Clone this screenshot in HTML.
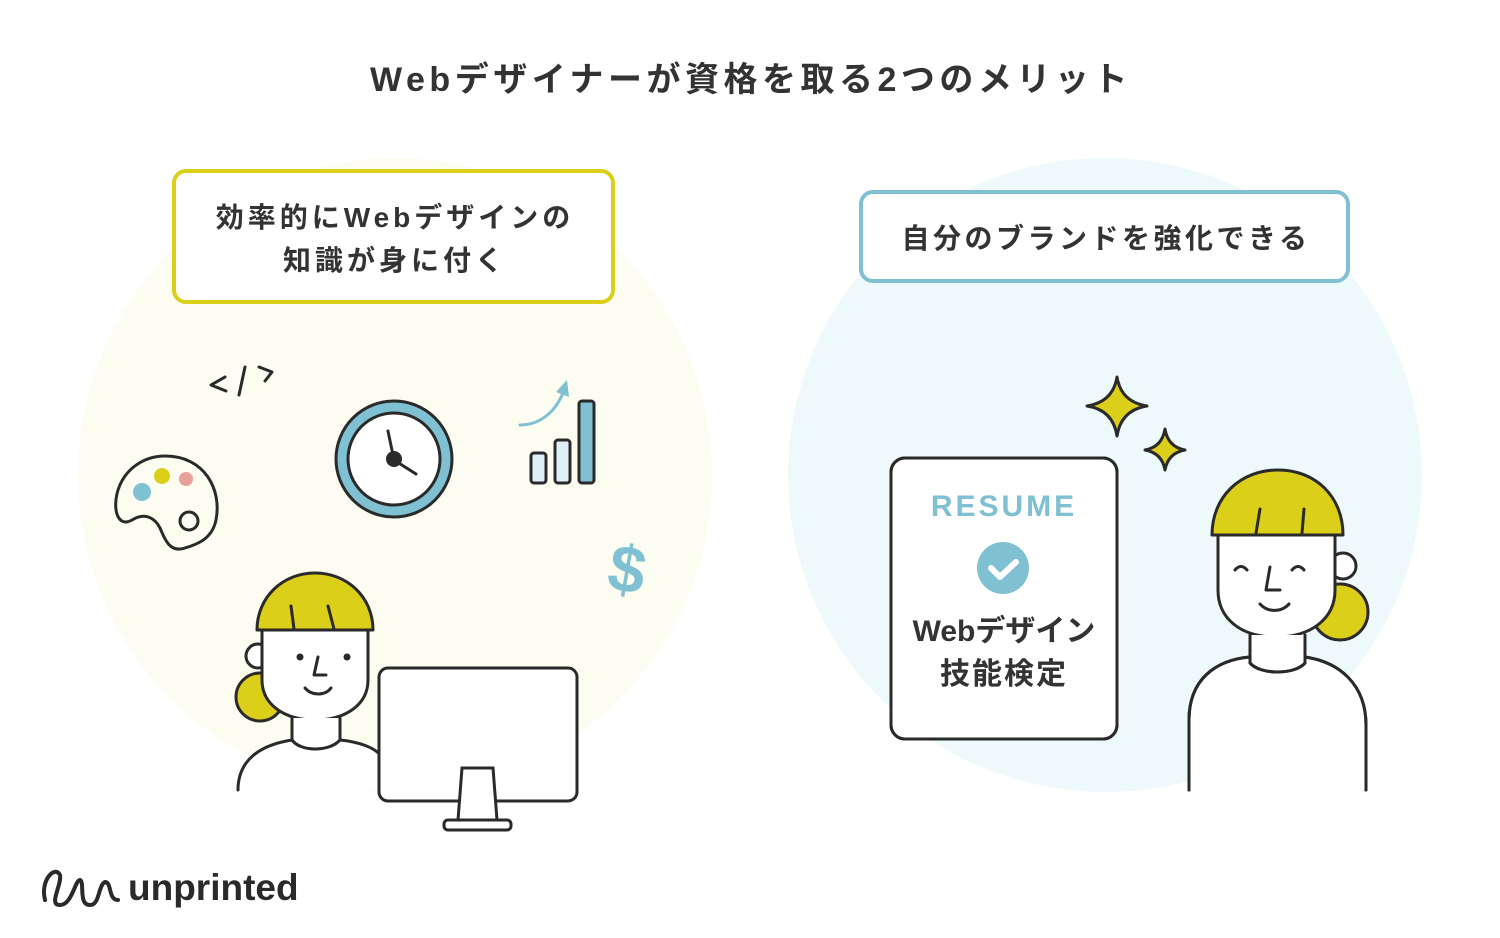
<!DOCTYPE html>
<html><head><meta charset="utf-8"><style>
html,body{margin:0;padding:0;background:#fff;}
svg{display:block;}
text{font-family:"Liberation Sans","Noto Sans CJK JP",sans-serif;}
</style></head><body>
<svg width="1500" height="938" viewBox="0 0 1500 938" xmlns="http://www.w3.org/2000/svg">
<rect width="1500" height="938" fill="#fff"/>
<text x="751" y="91" text-anchor="middle" font-size="34" font-weight="700" fill="#333" letter-spacing="4.5">Webデザイナーが資格を取る2つのメリット</text>

<circle cx="395" cy="475" r="317" fill="#fcfcf1"/>
<circle cx="1105" cy="475" r="317" fill="#eef9fc"/>

<rect x="174" y="171" width="439" height="131" rx="12" fill="#fff" stroke="#dccf1a" stroke-width="4"/>
<text x="395" y="227" text-anchor="middle" font-size="28" font-weight="700" fill="#333" letter-spacing="4">効率的にWebデザインの</text>
<text x="395" y="270" text-anchor="middle" font-size="28" font-weight="700" fill="#333" letter-spacing="4">知識が身に付く</text>

<rect x="861" y="192" width="487" height="89" rx="12" fill="#fff" stroke="#7fc0d2" stroke-width="4"/>
<text x="1106" y="248" text-anchor="middle" font-size="28" font-weight="700" fill="#333" letter-spacing="3.5">自分のブランドを強化できる</text>

<g fill="none" stroke="#2a2a2a" stroke-width="3" stroke-linecap="round" stroke-linejoin="round">
<path d="M225 377 L211 385 L226 391"/>
<path d="M245 367 L239 395"/>
<path d="M259 367 L272 372 L265 381"/>
<path d="M165 456 C205 456 222 490 216 520 C212 540 195 545 185 548 C170 553 165 540 160 528 C155 518 145 512 132 520 C118 528 112 510 118 490 C125 468 145 456 165 456 Z"/>
<circle cx="189" cy="521" r="9"/>
<circle cx="394" cy="459" r="58" fill="#7fc0d2"/>
<circle cx="394" cy="459" r="46" fill="#fff"/>
<path d="M388 431 L394 460 L416 474"/>
<rect x="531" y="453" width="15" height="30" rx="3" fill="#ddf0f6"/>
<rect x="555" y="440" width="15" height="43" rx="3" fill="#ddf0f6"/>
<rect x="579" y="401" width="15" height="82" rx="3" fill="#7fc0d2"/>
<!-- left person -->
<circle cx="260" cy="697" r="24" fill="#dccf1a"/>
<circle cx="258" cy="656" r="12" fill="#fff"/>
<path d="M262 630 L262 680 C262 705 285 720 315 720 C345 720 368 705 368 680 L368 630 Z" fill="#fff"/>
<path d="M257 630 C257 597 283 573 315 573 C347 573 373 597 373 630 Z" fill="#dccf1a"/>
<path d="M291 606 L294 629 M328 606 L334 629"/>
<path d="M318 657 L314 675 L326 675"/>
<path d="M305 688 C312 696 325 696 331 688"/>
<path d="M292 718 L292 740 C300 752 330 752 340 740 L340 718" fill="#fff"/>
<!-- stars -->
<path d="M1117 377 Q1121 402 1147 406 Q1121 410 1117 436 Q1113 410 1087 406 Q1113 402 1117 377 Z" fill="#dccf1a"/>
<path d="M1165 429 Q1168 447 1185 450 Q1168 453 1165 470 Q1162 453 1145 450 Q1162 447 1165 429 Z" fill="#dccf1a"/>
<!-- resume -->
<rect x="891" y="458" width="226" height="281" rx="14" fill="#fff"/>
<!-- right person -->
<path d="M1189 790 L1189 720 C1189 680 1215 660 1250 657 L1305 657 C1340 662 1366 685 1366 725 L1366 790" fill="#fff"/>
<circle cx="1340" cy="612" r="28" fill="#dccf1a"/>
<circle cx="1343" cy="566" r="13" fill="#fff"/>
<path d="M1218 535 L1218 590 C1218 618 1240 637 1276 637 C1312 637 1335 618 1335 590 L1335 535 Z" fill="#fff"/>
<path d="M1212 535 C1212 497 1240 470 1278 470 C1316 470 1343 497 1343 535 Z" fill="#dccf1a"/>
<path d="M1260 509 L1256 533 M1304 509 L1302 533"/>
<path d="M1235 570 Q1241 563 1247 570 M1292 570 Q1298 563 1304 570"/>
<path d="M1270 567 L1266 590 L1280 590"/>
<path d="M1260 604 C1268 613 1282 612 1289 604"/>
<path d="M1250 635 L1250 663 C1260 675 1295 675 1305 663 L1305 635" fill="#fff"/>
</g>
<circle cx="300" cy="657" r="3.5" fill="#2a2a2a"/>
<circle cx="347" cy="657" r="3.5" fill="#2a2a2a"/>
<path d="M238 790 C238 760 260 745 292 740 C300 752 330 752 340 740 C360 742 375 748 380 755 L380 790 Z" fill="#fff"/>
<path d="M238 790 C238 760 260 745 292 740 M340 740 C360 742 375 748 380 755 M292 740 C300 752 330 752 340 740" fill="none" stroke="#2a2a2a" stroke-width="3" stroke-linecap="round"/>
<rect x="379" y="668" width="198" height="133" rx="9" fill="#fff" stroke="#2a2a2a" stroke-width="3"/>
<path d="M462 768 L493 768 L497 820 L458 820 Z" fill="#fff" stroke="#2a2a2a" stroke-width="3"/>
<rect x="444" y="820" width="67" height="10" rx="4" fill="#fff" stroke="#2a2a2a" stroke-width="3"/>

<circle cx="142" cy="492" r="9" fill="#7fc0d2"/>
<circle cx="162" cy="476" r="8" fill="#dccf1a"/>
<circle cx="186" cy="479" r="7" fill="#e8a09a"/>
<circle cx="394" cy="459" r="8" fill="#2a2a2a"/>
<path d="M520 425 C540 425 555 412 563 393" fill="none" stroke="#7fc0d2" stroke-width="3" stroke-linecap="round"/>
<path d="M556 392 L567 380 L569 397 Z" fill="#7fc0d2"/>
<text x="627" y="592" text-anchor="middle" font-size="66" font-weight="700" fill="#7fc0d2" transform="rotate(10 627 570)">$</text>

<rect x="891" y="458" width="226" height="281" rx="14" fill="none" stroke="#2a2a2a" stroke-width="3"/>
<text x="1004" y="516" text-anchor="middle" font-size="30" font-weight="700" fill="#7fc0d2" letter-spacing="3">RESUME</text>
<circle cx="1003" cy="568" r="26" fill="#7fc0d2"/>
<path d="M991 568 L1000 577 L1016 562" fill="none" stroke="#fff" stroke-width="6" stroke-linecap="round" stroke-linejoin="round"/>
<text x="1004" y="641" text-anchor="middle" font-size="30" font-weight="700" fill="#333">Webデザイン</text>
<text x="1004" y="684" text-anchor="middle" font-size="30" font-weight="700" fill="#333" letter-spacing="2">技能検定</text>

<path d="M1189 790 L1189 720 C1189 680 1215 660 1250 657 M1305 657 C1340 662 1366 685 1366 725 L1366 790 M1250 663 C1260 675 1295 675 1305 663" fill="none" stroke="#2a2a2a" stroke-width="3" stroke-linecap="round"/>

<path d="M45 900 C40 880 55 865 60 875 C62 885 48 905 60 905 C72 905 75 880 80 880 C85 882 78 905 90 905 C100 905 98 885 105 882 C112 882 108 900 118 900" fill="none" stroke="#2a2a2a" stroke-width="4" stroke-linecap="round"/>
<text x="128" y="900" font-size="37" font-weight="700" fill="#2a2a2a">unprinted</text>
</svg>
</body></html>
